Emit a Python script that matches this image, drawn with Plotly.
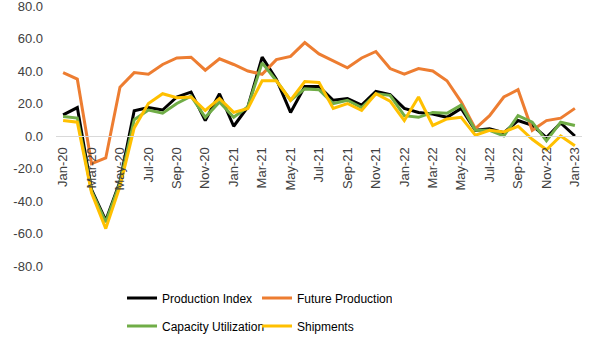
import plotly.graph_objects as go

months = ["Jan-20","Feb-20","Mar-20","Apr-20","May-20","Jun-20","Jul-20","Aug-20","Sep-20","Oct-20","Nov-20","Dec-20",
          "Jan-21","Feb-21","Mar-21","Apr-21","May-21","Jun-21","Jul-21","Aug-21","Sep-21","Oct-21","Nov-21","Dec-21",
          "Jan-22","Feb-22","Mar-22","Apr-22","May-22","Jun-22","Jul-22","Aug-22","Sep-22","Oct-22","Nov-22","Dec-22",
          "Jan-23"]

production_index = [13, 17.5, -33, -52, -28, 15.5, 17.5, 16, 24, 27, 9.5, 26,
                    6, 18, 48.5, 35, 14.5, 30.5, 30.5, 22, 23, 19, 27.5, 25.5,
                    17, 14.5, 13.5, 11.5, 17, 3.5, 4.5, 2, 9.5, 6.5, -1, 8,
                    0]
future_production = [39, 35, -17, -13.5, 30, 39, 38, 44, 48, 48.5, 40.5, 47.5,
                     44, 40, 38, 47, 49, 57.5, 50.5, 46, 42, 48, 52, 41.5,
                     38, 41.5, 40, 34, 21, 4.5, 12.5, 24, 28.5, 3.5, 9.5, 11,
                     17]
capacity_utilization = [12, 11, -34, -53, -29, 10, 16, 14, 20, 24.5, 11.5, 21,
                        11.5, 18, 45, 34, 22, 29, 28.5, 20, 22, 17.5, 26, 25,
                        12.5, 11.5, 14.5, 14, 19, 3.5, 3.5, 0, 12.5, 8.5, -3, 8.5,
                        6.5]
shipments = [9.5, 8.5, -35, -57, -31, 5, 20, 26, 23.5, 24, 15.7, 23,
             14.5, 17, 34, 34, 22, 33.5, 33, 17, 20, 15.7, 26, 21.5,
             9.5, 24, 6.5, 10.5, 11.5, 0.5, 3.5, 2.5, 6, -2, -8.5, 0,
             -6]

tick_labels = months[::2]
y_ticks = [-80, -60, -40, -20, 0, 20, 40, 60, 80]
y_tick_text = ["-80.0", "-60.0", "-40.0", "-20.0", "0.0", "20.0", "40.0", "60.0", "80.0"]

series = [
    ("Production Index", production_index, "#000000", "legend"),
    ("Future Production", future_production, "#ED7D31", "legend"),
    ("Capacity Utilization", capacity_utilization, "#70AD47", "legend2"),
    ("Shipments", shipments, "#FFC000", "legend2"),
]

fig = go.Figure()
for name, vals, color, leg in series:
    fig.add_trace(go.Scatter(x=months, y=vals, name=name, mode="lines",
                             line=dict(color=color, width=3), legend=leg))

font_family = "Liberation Sans, Arial, sans-serif"
legend_common = dict(orientation="h", xref="paper", yref="paper",
                     xanchor="left", yanchor="middle", entrywidth=90,
                     font=dict(size=12, color="#000000"), bgcolor="rgba(0,0,0,0)")
fig.update_layout(
    width=600, height=338,
    margin=dict(l=56, r=18, t=6, b=72, autoexpand=False),
    paper_bgcolor="white", plot_bgcolor="white",
    font=dict(family=font_family, size=13, color="#404040"),
    showlegend=True,
    legend=dict(x=0.1255, y=-0.123, **legend_common),
    legend2=dict(x=0.1255, y=-0.231, **legend_common),
    xaxis=dict(type="category", range=[-0.5, len(months) - 0.5],
               tickmode="array", tickvals=tick_labels, ticktext=tick_labels,
               tickangle=-90, anchor="free", position=0.5,
               showgrid=False, showline=True, linecolor="#D9D9D9", linewidth=1,
               ticks="", ticklabelstandoff=5, tickfont=dict(size=13, color="#404040")),
    yaxis=dict(range=[-80, 80], tickmode="array", tickvals=y_ticks, ticktext=y_tick_text,
               showgrid=False, zeroline=False, showline=False, ticklabeloverflow="allow",
               ticks="", ticklabelstandoff=12, tickfont=dict(size=13, color="#404040")),
)

fig.write_html("out.html")
